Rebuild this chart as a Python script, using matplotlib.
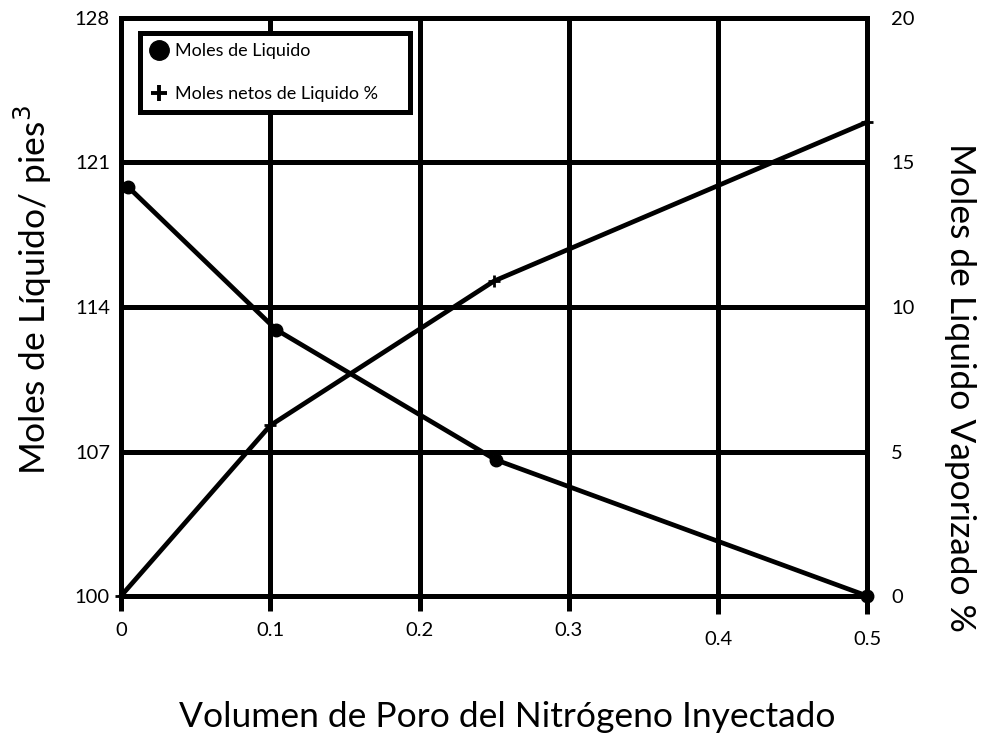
import matplotlib
matplotlib.use("Agg")
import matplotlib.pyplot as plt
from matplotlib.lines import Line2D

plt.rcParams['font.family'] = ['Lato', 'DejaVu Sans']

# Data
x_moles = [0.005, 0.104, 0.251, 0.5]
moles = [119.8, 112.9, 106.6, 100.0]
x_pct = [0.0, 0.1, 0.25, 0.5]
pct = [0.0, 5.9, 10.9, 16.4]

x_ticks = [0, 0.1, 0.2, 0.3, 0.4, 0.5]
x_labels = ['0', '0.1', '0.2', '0.3', '0.4', '0.5']
left_ticks = [100, 107, 114, 121, 128]
right_ticks = [0, 5, 10, 15, 20]
legend_labels = ['Moles de Liquido', 'Moles netos de Liquido %']

fig = plt.figure(figsize=(9.82, 7.34), dpi=100)
ax = fig.add_axes([0.1232, 0.188, 0.760, 0.7875])
ax2 = ax.twinx()

ax.set_xlim(0, 0.5)
ax.set_ylim(100, 128)
ax2.set_ylim(0, 20)

ax.set_xticks(x_ticks)
ax.set_xticklabels(x_labels)
ax.set_yticks(left_ticks)
ax2.set_yticks(right_ticks)

ax.grid(True, color='black', linewidth=3.6)
ax.set_axisbelow(True)
for a in (ax, ax2):
    for s in a.spines.values():
        s.set_linewidth(3.6)
        s.set_color('black')

ax.tick_params(axis='x', length=11, width=3.6, direction='out', labelsize=14.5, pad=8)
ax.tick_params(axis='y', length=0, labelsize=14.5, pad=8)
ax2.tick_params(axis='y', length=0, labelsize=14.5, pad=17)

ticks = ax.xaxis.get_major_ticks()
for i in (4, 5):
    ticks[i].set_pad(14)
    ticks[i].tick1line.set_markersize(13)

l1, = ax.plot(x_moles, moles, color='black', linewidth=3.4, marker='o', markersize=9,
              solid_joinstyle='round', clip_on=False, zorder=5)
l2, = ax2.plot(x_pct, pct, color='black', linewidth=3.4, marker='+', markersize=9,
               markeredgewidth=2, clip_on=False, zorder=5)

h1 = Line2D([], [], color='black', marker='o', linestyle='none', markersize=14)
h2 = Line2D([], [], color='black', marker='+', linestyle='none', markersize=11, markeredgewidth=2.8)
leg = ax2.legend([h1, h2], legend_labels,
                 loc='upper left', bbox_to_anchor=(0.025, 0.974, 0.362, 0.0),
                 mode='expand', borderaxespad=0,
                 fancybox=False, framealpha=1, edgecolor='black', fontsize=13,
                 labelspacing=1.5, handletextpad=0.4, handlelength=1.0,
                 borderpad=0.55)
leg.get_frame().set_linewidth(3.6)

ax.set_ylabel('Moles de Líquido/ pies$^3$', fontsize=25.5)
ax.yaxis.set_label_coords(-0.118, 0.53)
ax2.set_ylabel('Moles de Liquido Vaporizado %', fontsize=25.5, rotation=-90, va='center')
ax2.yaxis.set_label_coords(1.124, 0.36)
ax.set_xlabel('Volumen de Poro del Nitrógeno Inyectado', fontsize=25.5)
ax.xaxis.set_label_coords(0.517, -0.21)
ax.xaxis.label.set_va('center')
ax.yaxis.label.set_va('center')

fig.savefig('out.png', dpi=100)
